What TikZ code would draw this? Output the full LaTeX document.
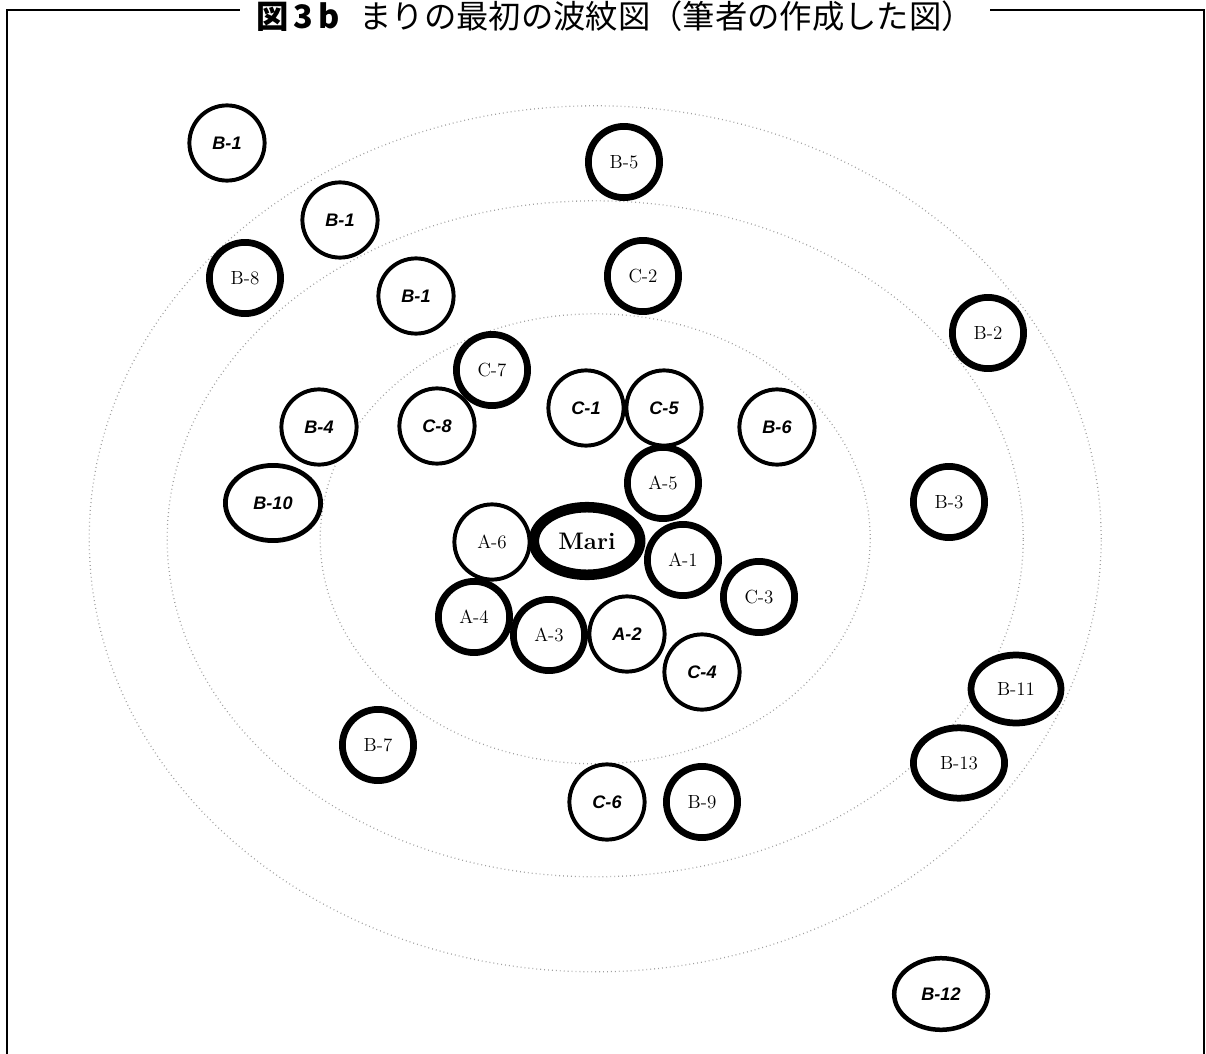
\documentclass[tikz,border=0pt]{standalone}
\usepackage{fontspec}
\setsansfont{Liberation Sans}
\newfontfamily\jfont{Noto Sans CJK JP}
\usetikzlibrary{shapes.geometric}

\begin{document}
\begin{tikzpicture}[
    person/.style={draw, fill=white, ellipse, line width=2.8pt, inner sep=0pt,
      minimum width=1.88cm, minimum height=1.88cm, font=\fontsize{13.5}{15}\selectfont},
    strong/.style={person, line width=4.8pt, minimum width=1.78cm, minimum height=1.78cm},
    itl/.style={font=\fontsize{12.9}{15}\selectfont\sffamily\bfseries\itshape},
    ring/.style={draw=gray!75, line width=0.9pt, dash pattern=on 0.6pt off 2.2pt},
    frame/.style={draw, line width=1.4pt}
  ]
    \useasboundingbox (0,0) rectangle (30.15,-26.35);
    % 枠と表題
    \node[font=\fontsize{23}{25}\selectfont\jfont, inner xsep=0.4cm, inner ysep=0pt] (title) at (15.375,-0.4)
      {{\bfseries 図\,3\,b}\hspace{0.6em}まりの最初の波紋図（筆者の作成した図）};
    \coordinate (tl) at (0.175,-0.25);
    \coordinate (tr) at (30.1,-0.25);
    \coordinate (bl) at (0.175,-26.5);
    \coordinate (br) at (30.1,-26.5);
    \draw[frame] (title.west |- tl) -- (tl) -- (bl);
    \draw[frame] (title.east |- tr) -- (tr) -- (br);
    % 波紋（点線の楕円）
    \coordinate (o) at (14.88,-13.47);
    \draw[ring] (o) ellipse [x radius=6.875cm, y radius=5.625cm];
    \draw[ring] (o) ellipse [x radius=10.7cm, y radius=8.45cm];
    \draw[ring] (o) ellipse [x radius=12.65cm, y radius=10.825cm];
    % 中心：まり
    \node[person, line width=7.5pt, minimum width=2.66cm, minimum height=1.69cm,
      font=\fontsize{17}{19}\selectfont\bfseries] (mari) at (14.675,-13.525) {Mari};
    % A
    \node[person] (a6) at (12.3,-13.55) {A-6};
    \node[strong] (a5) at (16.575,-12.075) {A-5};
    \node[strong] (a1) at (17.075,-14.0) {A-1};
    \node[strong] (a4) at (11.85,-15.425) {A-4};
    \node[strong] (a3) at (13.725,-15.875) {A-3};
    \node[person, itl] (a2) at (15.675,-15.85) {A-2};
    % C
    \node[person, itl] (c1) at (14.65,-10.2) {C-1};
    \node[person, itl] (c5) at (16.6,-10.2) {C-5};
    \node[strong] (c7) at (12.3,-9.25) {C-7};
    \node[person, itl] (c8) at (10.925,-10.65) {C-8};
    \node[strong] (c2) at (16.075,-6.9) {C-2};
    \node[strong] (c3) at (18.975,-14.925) {C-3};
    \node[person, itl] (c4) at (17.55,-16.8) {C-4};
    \node[person, itl] (c6) at (15.175,-20.05) {C-6};
    % B
    \node[person, itl] (b1a) at (5.675,-3.575) {B-1};
    \node[person, itl] (b1b) at (8.5,-5.5) {B-1};
    \node[person, itl] (b1c) at (10.4,-7.4) {B-1};
    \node[strong] (b5) at (15.6,-4.05) {B-5};
    \node[strong] (b8) at (6.125,-6.95) {B-8};
    \node[strong] (b2) at (24.7,-8.325) {B-2};
    \node[person, itl] (b6) at (19.425,-10.675) {B-6};
    \node[person, itl] (b4) at (7.975,-10.675) {B-4};
    \node[person, itl, line width=3.4pt, minimum width=2.38cm] (b10) at (6.825,-12.575) {B-10};
    \node[strong] (b3) at (23.725,-12.55) {B-3};
    \node[strong, minimum width=2.25cm, minimum height=1.7cm] (b11) at (25.4,-17.225) {B-11};
    \node[strong] (b7) at (9.45,-18.625) {B-7};
    \node[strong, minimum width=2.28cm, minimum height=1.76cm] (b13) at (23.975,-19.075) {B-13};
    \node[strong] (b9) at (17.55,-20.05) {B-9};
    \node[person, itl, line width=3.2pt, minimum width=2.34cm, minimum height=1.79cm] (b12) at (23.525,-24.85) {B-12};
  \end{tikzpicture}
\end{document}
